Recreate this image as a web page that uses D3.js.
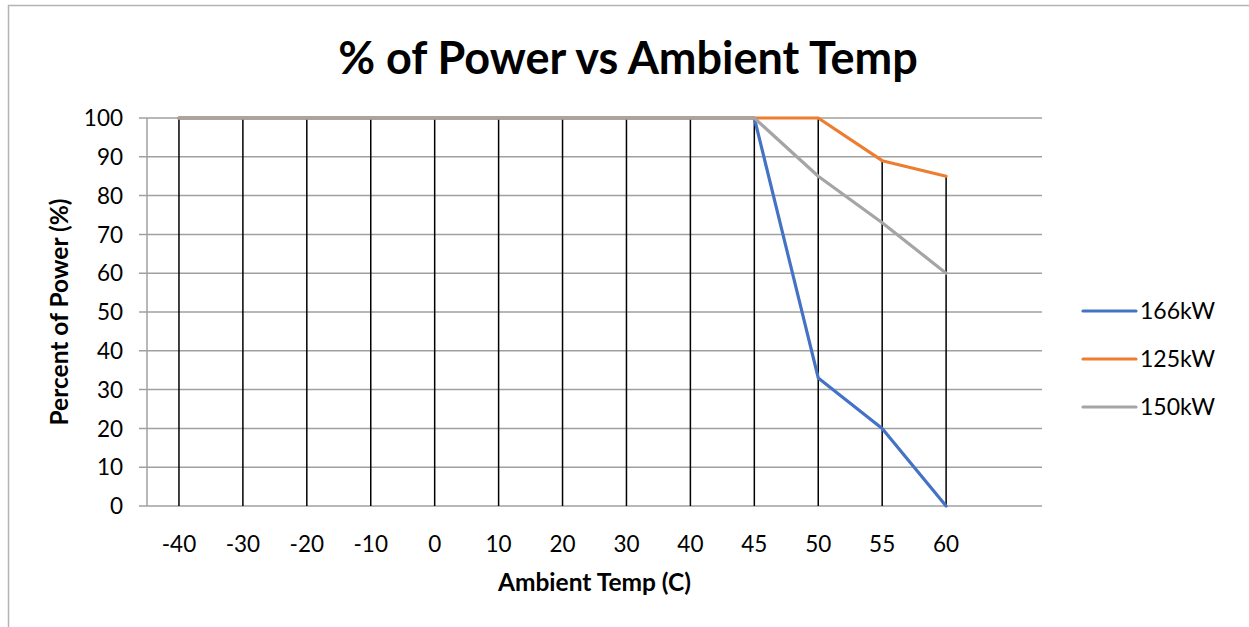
<!DOCTYPE html>
<html>
<head>
<meta charset="utf-8">
<script src="https://cdn.jsdelivr.net/npm/d3@7"></script>
<style>
  body { margin: 0; background: #fff; }
  text { font-family: Lato, "Open Sans", sans-serif; fill: #000; }
</style>
</head>
<body>
<div id="chart"></div>
<script>
// categories (last slot is empty in the original chart)
var temps = ["-40", "-30", "-20", "-10", "0", "10", "20", "30", "40", "45", "50", "55", "60", ""];
var yTicks = [0, 10, 20, 30, 40, 50, 60, 70, 80, 90, 100];

var kw166 = [100, 100, 100, 100, 100, 100, 100, 100, 100, 100, 33, 20, 0];
var kw125 = [100, 100, 100, 100, 100, 100, 100, 100, 100, 100, 100, 89, 85];
var kw150 = [100, 100, 100, 100, 100, 100, 100, 100, 100, 100, 85, 73, 60];

var seriesNames = ["166kW", "125kW", "150kW"];
var seriesColors = ["#4472C4", "#ED7D31", "#A5A5A5"];
var series = [kw166, kw125, kw150];

var width = 1249, height = 627;
var plotLeft = 147, plotRight = 1042, plotTop = 118, plotBottom = 506;

var svg = d3.select("#chart").append("svg")
  .attr("width", width)
  .attr("height", height);

// chart border
svg.append("rect")
  .attr("x", 8.5).attr("y", 5.5)
  .attr("width", 1400).attr("height", 800)
  .attr("fill", "none")
  .attr("stroke", "#b4b4b4")
  .attr("stroke-width", 1.5);

var x = d3.scaleBand().domain(temps).range([plotLeft, plotRight]);
var y = d3.scaleLinear().domain([0, 100]).range([plotBottom, plotTop]);

// horizontal gridlines + ticks
svg.selectAll("line.grid")
  .data(yTicks)
  .enter()
  .append("line")
  .attr("class", "grid")
  .attr("x1", plotLeft - 8)
  .attr("x2", plotRight)
  .attr("y1", d => y(d))
  .attr("y2", d => y(d))
  .attr("stroke", "#a0a0a0")
  .attr("stroke-width", 1.5);

// y axis line
svg.append("line")
  .attr("x1", plotLeft).attr("x2", plotLeft)
  .attr("y1", plotTop).attr("y2", plotBottom)
  .attr("stroke", "#a0a0a0")
  .attr("stroke-width", 1.5);

// y tick labels
svg.selectAll("text.ylab")
  .data(yTicks)
  .enter()
  .append("text")
  .attr("class", "ylab")
  .attr("x", 123)
  .attr("y", d => y(d))
  .attr("dy", "0.36em")
  .attr("text-anchor", "end")
  .attr("font-size", 22.5)
  .text(d => d);

// drop lines (from highest series value down to the axis)
var dropData = temps.map((t, i) => ({ t: t, v: d3.max(series, s => s[i]) }))
  .filter(d => d.v != null);
svg.selectAll("line.drop")
  .data(dropData)
  .enter()
  .append("line")
  .attr("class", "drop")
  .attr("x1", d => x(d.t) + x.bandwidth() / 2)
  .attr("x2", d => x(d.t) + x.bandwidth() / 2)
  .attr("y1", d => y(d.v))
  .attr("y2", y(0))
  .attr("stroke", "#000")
  .attr("stroke-width", 1.5);

// x tick labels
svg.selectAll("text.xlab")
  .data(temps)
  .enter()
  .append("text")
  .attr("class", "xlab")
  .attr("x", d => x(d) + x.bandwidth() / 2)
  .attr("y", 552)
  .attr("text-anchor", "middle")
  .attr("font-size", 22.5)
  .text(d => d);

// series lines
var line = d3.line()
  .x((d, i) => x(temps[i]) + x.bandwidth() / 2)
  .y(d => y(d));

series.forEach((s, k) => {
  svg.append("path")
    .datum(s)
    .attr("d", line)
    .attr("fill", "none")
    .attr("stroke", seriesColors[k])
    .attr("stroke-width", 3.2)
    .attr("stroke-linejoin", "round")
    .attr("stroke-linecap", "round");
});

// title
svg.append("text")
  .attr("x", 628).attr("y", 74)
  .attr("text-anchor", "middle")
  .attr("font-size", 45)
  .attr("font-weight", "bold")
  .text("% of Power vs Ambient Temp");

// axis titles
svg.append("text")
  .attr("x", (plotLeft + plotRight) / 2).attr("y", 591)
  .attr("text-anchor", "middle")
  .attr("font-size", 24.5)
  .attr("font-weight", "bold")
  .text("Ambient Temp (C)");

svg.append("text")
  .attr("transform", "translate(68," + ((plotTop + plotBottom) / 2) + ") rotate(-90)")
  .attr("text-anchor", "middle")
  .attr("font-size", 24.5)
  .attr("font-weight", "bold")
  .text("Percent of Power (%)");

// legend
var legend = svg.selectAll("g.legend")
  .data(seriesNames)
  .enter()
  .append("g")
  .attr("class", "legend")
  .attr("transform", (d, i) => "translate(1083," + (311 + i * 48) + ")");

legend.append("line")
  .attr("x1", 0).attr("x2", 53)
  .attr("stroke", (d, i) => seriesColors[i])
  .attr("stroke-width", 3.2)
  .attr("stroke-linecap", "round");

legend.append("text")
  .attr("x", 57)
  .attr("dy", "0.36em")
  .attr("font-size", 23)
  .text(d => d);
</script>
</body>
</html>
